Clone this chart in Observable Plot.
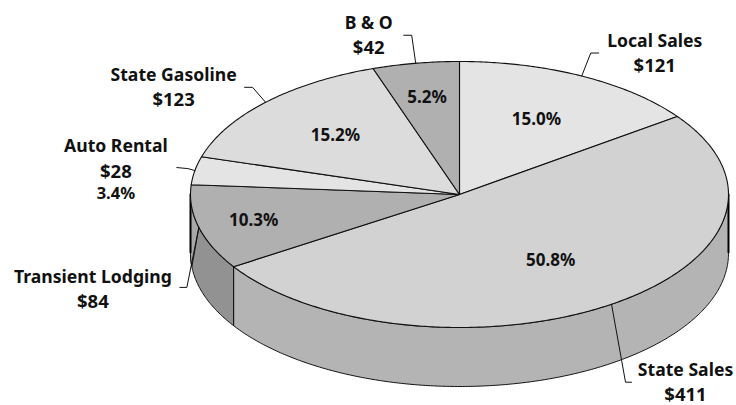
<!DOCTYPE html>
<html>
<head>
<meta charset="utf-8">
<script src="https://cdn.jsdelivr.net/npm/d3@7"></script>
<script src="https://cdn.jsdelivr.net/npm/@observablehq/plot@0.6"></script>
<style>
  html, body { margin: 0; padding: 0; background: #fff; }
  svg { display: block; }
</style>
</head>
<body>
<div id="chart"></div>
<script>
// Revenue sources, clockwise from twelve o'clock
const sources = ["Local Sales", "State Sales", "Transient Lodging", "Auto Rental", "State Gasoline", "B & O"];
const amounts = [121, 411, 84, 28, 123, 42];
const shares = [15.0, 50.8, 10.3, 3.4, 15.2, 5.2];

// Fill of each slice's top face, and of its visible wall
const topFills = ["#e4e4e4", "#d2d2d2", "#b0b0b0", "#e4e4e4", "#dcdcdc", "#b0b0b0"];
const wallFills = ["#b4b4b4", "#b4b4b4", "#929292", "#a8a8a8", "#a8a8a8", "#a8a8a8"];
const sliverFill = "#a8a8a8";

// Pie geometry: the unit circle is squashed into an ellipse by the x and y scales
const cx = 459, cy = 194, rx = 269, ry = 133, depth = 59;
const unitX = px => px / rx;
const unitY = px => -px / ry;

// Per-slice layout: radial position of the share label, callout elbow offsets (px), name-label offset (px)
const shareRadius = [0.63, 0.6, 0.79, 0, 0.64, 0.74];
const callouts = [
  [[9, -23], [17, -23]],
  [[14, 78], [20, 78]],
  [[-12, 60], [-19, 60]],
  [[-7, -2], [-18, -3]],
  [[-13, -15], [-21, -15]],
  [[-4, -28], [-12, -28]]
];
const nameOffsets = [[73, -35], [74, 66], [-106, 50], [-79, -24], [-92, -27], [-47, -40]];

// Slice boundaries as fractions of a turn, from the stated shares
const total = d3.sum(shares);
const ends = d3.cumsum(shares, d => d / total * 2 * Math.PI);
const starts = [0, ...ends.slice(0, -1)];
const mids = starts.map((s, i) => (s + ends[i]) / 2);
const rimX = a => Math.sin(a);
const rimY = a => Math.cos(a);

function arc(a0, a1, drop = 0) {
  const n = Math.max(2, Math.ceil((a1 - a0) / 0.01));
  return d3.range(n + 1).map(k => {
    const a = a0 + (a1 - a0) * k / n;
    return [rimX(a), rimY(a) + unitY(drop)];
  });
}

const x = d => d[0], y = d => d[1];
const outline = {x, y, stroke: "#111", strokeWidth: 1, strokeLinejoin: "round"};
const marks = [];

// Walls: only the part of each slice facing the viewer
sources.forEach((_, i) => {
  const a0 = Math.max(starts[i], Math.PI / 2);
  const a1 = Math.min(ends[i], 1.5 * Math.PI);
  if (a1 <= a0) return;
  const wall = [...arc(a0, a1), ...arc(a0, a1, depth).reverse()];
  wall.push(wall[0]);
  marks.push(Plot.line(wall, {...outline, fill: wallFills[i]}));
});

// Lighter sliver of the lodging wall, left of its callout
const west = 1.5 * Math.PI;
const sliver = [...arc(mids[2], west), ...arc(mids[2] + 0.15, west, depth).reverse()];
sliver.push(sliver[0]);
marks.push(Plot.line(sliver, {...outline, fill: sliverFill}));

// Heavier silhouette edges where the wall turns away on both sides
for (const a of [west, Math.PI / 2]) {
  marks.push(Plot.line([[rimX(a), unitY(0)], [rimX(a), unitY(depth - 1)]], {x, y, stroke: "#000", strokeWidth: 2}));
}

// Top faces
sources.forEach((_, i) => {
  const face = [[0, 0], ...arc(starts[i], ends[i]), [0, 0]];
  marks.push(Plot.line(face, {...outline, fill: topFills[i], strokeWidth: 1.1}));
});

const font = {fontFamily: "'Noto Sans', sans-serif", fontWeight: 700, fill: "#111", textAnchor: "middle", lineAnchor: "middle", stroke: "none"};

// Callouts and name labels
sources.forEach((name, i) => {
  const rim = [rimX(mids[i]), rimY(mids[i])];
  const leader = [rim, ...callouts[i].map(([dx, dy]) => [rim[0] + unitX(dx), rim[1] + unitY(dy)])];
  marks.push(Plot.line(leader, {x, y, stroke: "#111", strokeWidth: 1}));
  const [nx, ny] = nameOffsets[i];
  const at = [[rim[0] + unitX(nx), rim[1] + unitY(ny)]];
  marks.push(Plot.text(at, {x, y, text: () => name, fontSize: 17.6, ...font}));
  marks.push(Plot.text(at, {x, y, text: () => `$${amounts[i]}`, dy: 25, fontSize: 18.5, ...font}));
  if (shareRadius[i] === 0) {
    marks.push(Plot.text(at, {x, y, text: () => `${shares[i].toFixed(1)}%`, dy: 47, fontSize: 16.5, ...font}));
  } else {
    const inside = [[rim[0] * shareRadius[i], rim[1] * shareRadius[i]]];
    marks.push(Plot.text(inside, {x, y, text: () => `${shares[i].toFixed(1)}%`, fontSize: 17, ...font}));
  }
});

document.getElementById("chart").append(Plot.plot({
  width: 736,
  height: 405,
  margin: 0,
  x: {domain: [-1, 1], range: [cx - rx, cx + rx], axis: null},
  y: {domain: [1, -1], range: [cy - ry, cy + ry], axis: null},
  marks
}));
</script>
</body>
</html>
